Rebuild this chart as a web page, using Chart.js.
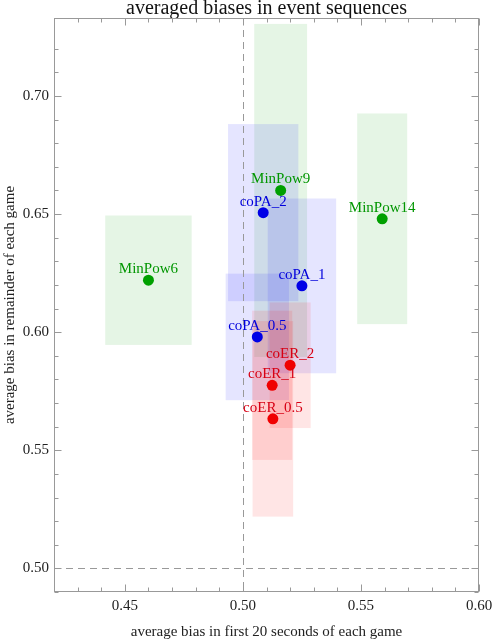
<!DOCTYPE html>
<html>
<head>
<meta charset="utf-8">
<script src="https://cdn.jsdelivr.net/npm/chart.js@4"></script>
<style>
  html, body { margin: 0; padding: 0; background: #fff; }
  #wrap { width: 492px; height: 640px; }
</style>
</head>
<body>
<div id="wrap"><canvas id="biasChart"></canvas></div>
<script>
// values
const minPowNames = ['MinPow6', 'MinPow9', 'MinPow14'];
const minPowX = [0.460, 0.516, 0.559];
const minPowY = [0.622, 0.660, 0.648];
const minPowXErr = [0.0183, 0.0112, 0.0106];
const minPowYErr = [0.0274, 0.0705, 0.0446];

const coPANames = ['coPA_2', 'coPA_1', 'coPA_0.5'];
const coPAX = [0.5086, 0.525, 0.5061];
const coPAY = [0.6506, 0.6196, 0.598];
const coPAXErr = [0.0149, 0.0145, 0.0134];
const coPAYErr = [0.0375, 0.037, 0.0268];

const coERNames = ['coER_2', 'coER_1', 'coER_0.5'];
const coERX = [0.520, 0.5124, 0.5127];
const coERY = [0.586, 0.5775, 0.5633];
const coERXErr = [0.0087, 0.0085, 0.0086];
const coERYErr = [0.0266, 0.0316, 0.0414];

const refX = 0.50;
const refY = 0.50;

function makeSet(names, xs, ys, xe, ye, color, fill, labelColor) {
    return {
        data: xs.map((x, i) => ({ x: x, y: ys[i], xe: xe[i], ye: ye[i], name: names[i] })),
        backgroundColor: color,
        borderWidth: 0,
        pointRadius: 5.5,
        pointHoverRadius: 5.5,
        boxFill: fill,
        labelColor: labelColor
    };
}

const datasets = [
    makeSet(minPowNames, minPowX, minPowY, minPowXErr, minPowYErr, 'rgb(0,160,0)', 'rgba(0,160,0,0.1)', 'rgb(0,150,0)'),
    makeSet(coPANames, coPAX, coPAY, coPAXErr, coPAYErr, 'rgb(0,0,230)', 'rgba(0,0,255,0.1)', 'rgb(0,0,220)'),
    makeSet(coERNames, coERX, coERY, coERXErr, coERYErr, 'rgb(240,0,0)', 'rgba(255,0,0,0.1)', 'rgb(215,0,20)')
];

const onStep = (v, step) => Math.abs(Math.round(v / step) - v / step) < 1e-6;

// error boxes, reference lines, frame with inward ticks, point labels
const extras = {
    id: 'extras',
    beforeDatasetsDraw(chart) {
        const { ctx, chartArea: a, scales: { x, y } } = chart;
        ctx.save();
        ctx.beginPath();
        ctx.rect(a.left, a.top, a.right - a.left, a.bottom - a.top);
        ctx.clip();
        chart.data.datasets.forEach(ds => {
            ctx.fillStyle = ds.boxFill;
            ds.data.forEach(p => {
                const x0 = x.getPixelForValue(p.x - p.xe), x1 = x.getPixelForValue(p.x + p.xe);
                const y0 = y.getPixelForValue(p.y + p.ye), y1 = y.getPixelForValue(p.y - p.ye);
                ctx.fillRect(x0, y0, x1 - x0, y1 - y0);
            });
        });
        ctx.strokeStyle = '#999';
        ctx.lineWidth = 1;
        ctx.setLineDash([7, 5]);
        const px = Math.round(x.getPixelForValue(refX)) + 0.5;
        const py = Math.round(y.getPixelForValue(refY)) + 0.5;
        ctx.beginPath();
        ctx.moveTo(px, a.top); ctx.lineTo(px, a.bottom);
        ctx.moveTo(a.left, py); ctx.lineTo(a.right, py);
        ctx.stroke();
        ctx.restore();

        // frame and ticks
        ctx.save();
        ctx.strokeStyle = '#999';
        ctx.lineWidth = 1;
        const L = Math.round(a.left) + 0.5, R = Math.round(a.right) - 0.5;
        const T = Math.round(a.top) + 0.5, B = Math.round(a.bottom) - 0.5;
        ctx.strokeRect(L, T, R - L, B - T);
        ctx.beginPath();
        x.ticks.forEach(t => {
            if (!onStep(t.value, 0.01)) return;
            const len = onStep(t.value, 0.05) ? 7 : 4;
            const p = Math.round(x.getPixelForValue(t.value)) + 0.5;
            ctx.moveTo(p, B); ctx.lineTo(p, B - len);
            ctx.moveTo(p, T); ctx.lineTo(p, T + len);
        });
        y.ticks.forEach(t => {
            if (!onStep(t.value, 0.01)) return;
            const len = onStep(t.value, 0.05) ? 7 : 4;
            const p = Math.round(y.getPixelForValue(t.value)) + 0.5;
            ctx.moveTo(L, p); ctx.lineTo(L + len, p);
            ctx.moveTo(R, p); ctx.lineTo(R - len, p);
        });
        ctx.stroke();
        ctx.restore();
    },
    afterDatasetsDraw(chart) {
        const { ctx, scales: { x, y } } = chart;
        ctx.save();
        ctx.font = '15px "Liberation Serif", "Times New Roman", serif';
        ctx.textAlign = 'center';
        ctx.textBaseline = 'middle';
        chart.data.datasets.forEach(ds => {
            ctx.fillStyle = ds.labelColor;
            ds.data.forEach(p => {
                ctx.fillText(p.name, x.getPixelForValue(p.x), y.getPixelForValue(p.y) - 11);
            });
        });
        ctx.restore();
    }
};

Chart.defaults.font.family = '"Liberation Serif", "Times New Roman", serif';
Chart.defaults.font.size = 15;
Chart.defaults.color = '#222';

new Chart(document.getElementById('biasChart'), {
    type: 'scatter',
    data: { datasets: datasets },
    options: {
        responsive: true,
        maintainAspectRatio: false,
        animation: false,
        events: [],
        layout: { padding: { left: 0, right: 13, top: 0, bottom: 0 } },
        plugins: {
            legend: { display: false },
            tooltip: { enabled: false },
            title: {
                display: true,
                text: 'averaged biases in event sequences',
                fullSize: false,
                color: '#111',
                font: { size: 20, weight: 'normal', lineHeight: 0.9 },
                padding: 0
            }
        },
        scales: {
            x: {
                type: 'linear',
                min: 0.42,
                max: 0.60,
                grid: { display: false, drawTicks: false },
                border: { display: false },
                ticks: {
                    stepSize: 0.01,
                    padding: 5,
                    autoSkip: false,
                    maxRotation: 0,
                    color: '#222',
                    callback: v => onStep(v, 0.05) ? v.toFixed(2) : ''
                },
                title: {
                    display: true,
                    text: 'average bias in first 20 seconds of each game',
                    color: '#222',
                    font: { size: 15, lineHeight: 1 },
                    padding: { top: 0, bottom: 0 }
                },
                afterFit(scale) {
                    scale.height = 48;
                    scale.paddingLeft = 0;
                    scale.paddingRight = 0;
                }
            },
            y: {
                type: 'linear',
                min: 0.49,
                max: 0.733,
                grid: { display: false, drawTicks: false },
                border: { display: false },
                ticks: {
                    stepSize: 0.01,
                    padding: 5,
                    autoSkip: false,
                    color: '#222',
                    callback: v => onStep(v, 0.05) ? v.toFixed(2) : ''
                },
                title: {
                    display: true,
                    text: 'average bias in remainder of each game',
                    color: '#222',
                    font: { size: 15, lineHeight: 1.2 },
                    padding: { top: 1, bottom: 0 }
                },
                afterFit(scale) {
                    scale.width = 54;
                    scale.paddingTop = 0;
                    scale.paddingBottom = 0;
                }
            }
        }
    },
    plugins: [extras]
});
</script>
</body>
</html>
